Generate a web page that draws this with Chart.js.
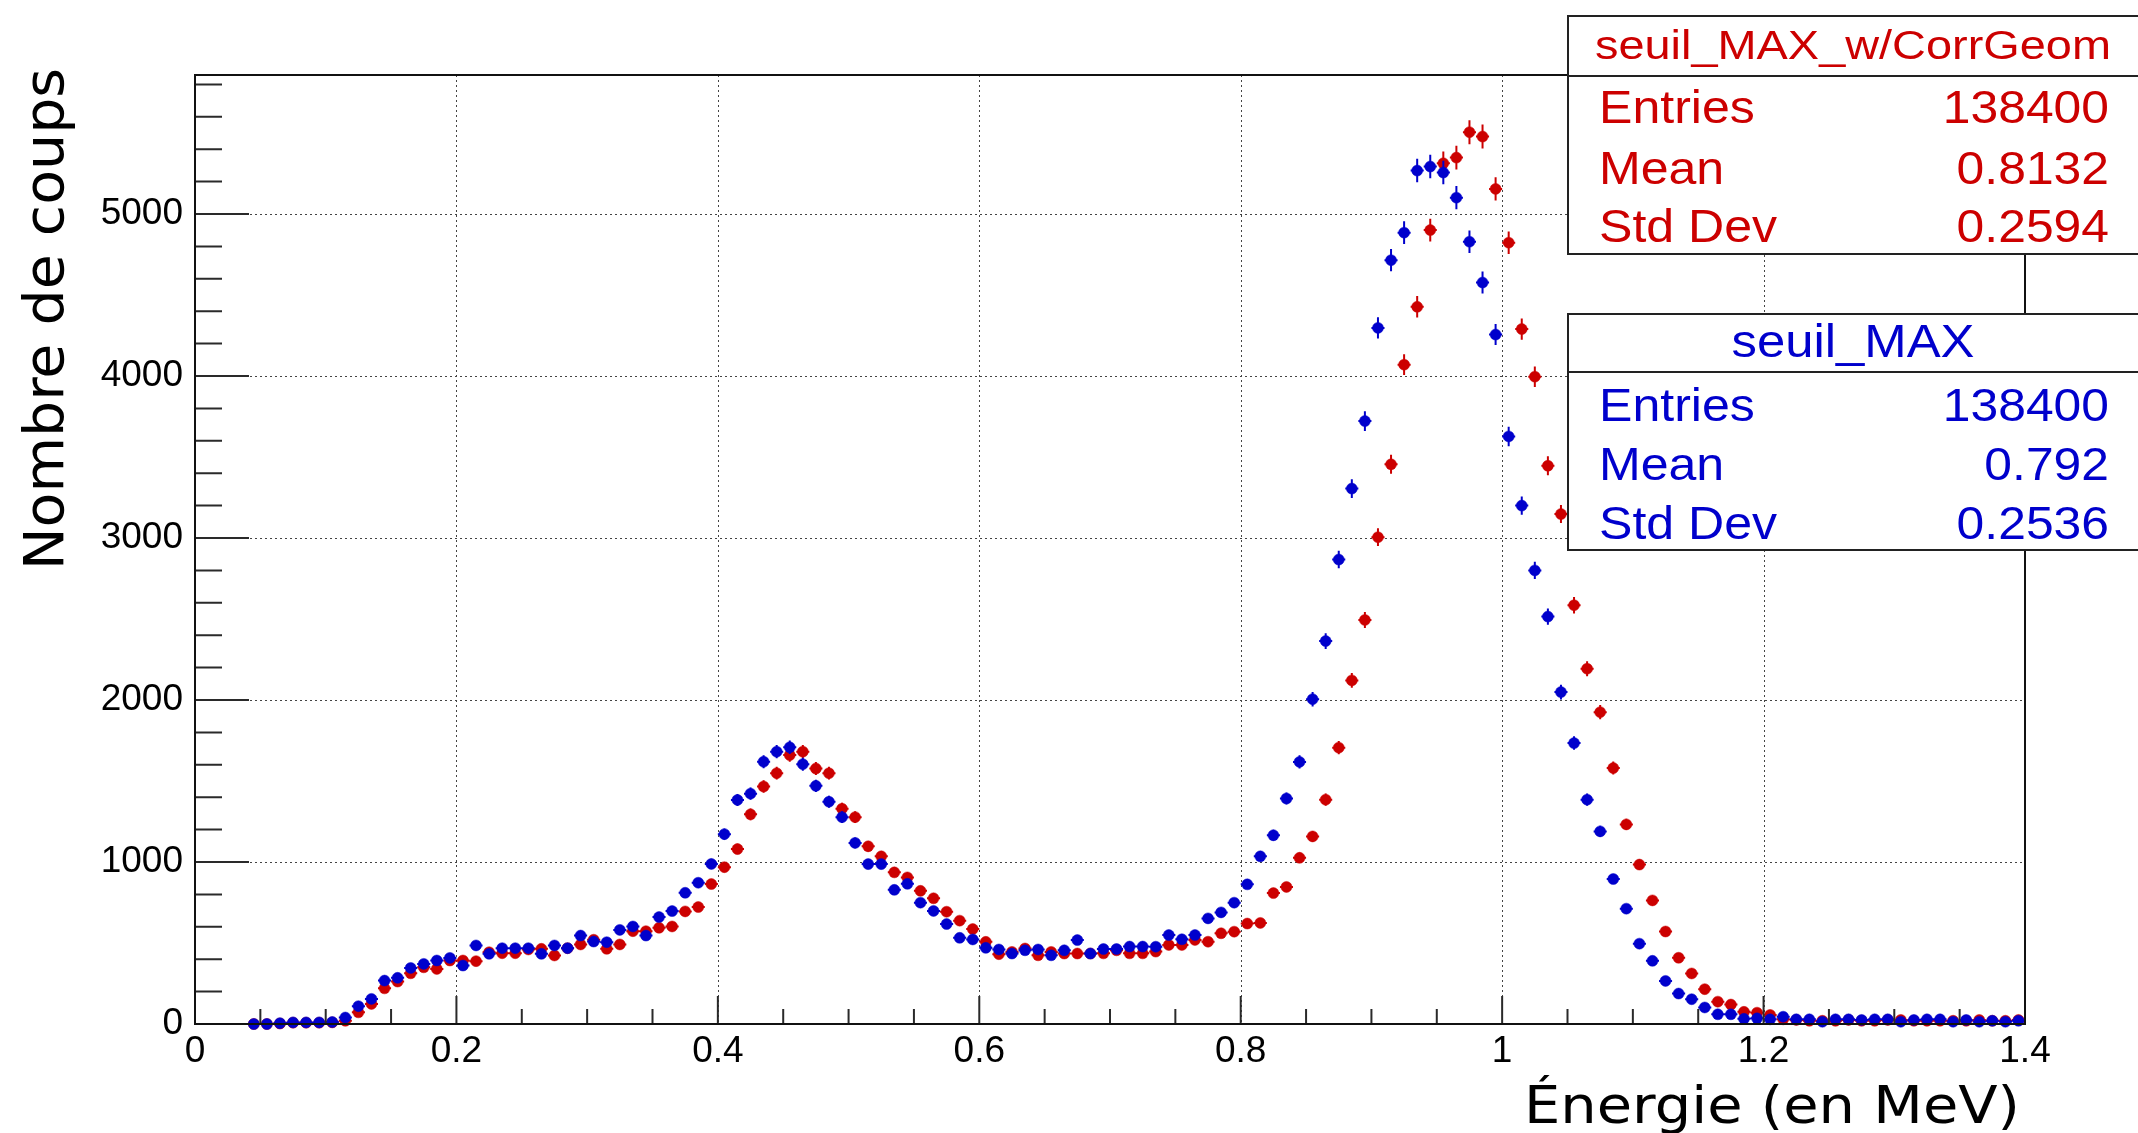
<!DOCTYPE html>
<html>
<head>
<meta charset="utf-8">
<script src="https://cdn.jsdelivr.net/npm/chart.js@4.4.1/dist/chart.umd.min.js"></script>
<style>
html,body{margin:0;padding:0;background:#fff;overflow:hidden}
#wrap{width:2138px;height:1133px;position:relative}
</style>
</head>
<body>
<div id="wrap"><canvas id="c" width="2138" height="1133"></canvas></div>
<script>
// ---- data (bin centres, MeV) ----
const energyBins = [
0.045,0.055,0.065,0.075,0.085,0.095,0.105,0.115,0.125,0.135,
0.145,0.155,0.165,0.175,0.185,0.195,0.205,0.215,0.225,0.235,
0.245,0.255,0.265,0.275,0.285,0.295,0.305,0.315,0.325,0.335,
0.345,0.355,0.365,0.375,0.385,0.395,0.405,0.415,0.425,0.435,
0.445,0.455,0.465,0.475,0.485,0.495,0.505,0.515,0.525,0.535,
0.545,0.555,0.565,0.575,0.585,0.595,0.605,0.615,0.625,0.635,
0.645,0.655,0.665,0.675,0.685,0.695,0.705,0.715,0.725,0.735,
0.745,0.755,0.765,0.775,0.785,0.795,0.805,0.815,0.825,0.835,
0.845,0.855,0.865,0.875,0.885,0.895,0.905,0.915,0.925,0.935,
0.945,0.955,0.965,0.975,0.985,0.995,1.005,1.015,1.025,1.035,
1.045,1.055,1.065,1.075,1.085,1.095,1.105,1.115,1.125,1.135,
1.145,1.155,1.165,1.175,1.185,1.195,1.205,1.215,1.225,1.235,
1.245,1.255,1.265,1.275,1.285,1.295,1.305,1.315,1.325,1.335,
1.345,1.355,1.365,1.375,1.385,1.395];

// seuil_MAX (blue)
const countsMAX = [
0,0,5,10,10,10,12,40,110,155,
268,285,346,371,392,408,361,485,433,468,
468,468,433,485,468,546,509,505,581,602,
546,660,697,810,872,988,1172,1383,1422,1619,
1681,1708,1604,1470,1372,1277,1118,987,987,828,
865,749,698,617,532,522,470,460,435,455,
460,424,455,518,435,463,463,478,478,477,
549,523,549,652,689,749,862,1035,1165,1392,
1618,2005,2364,2867,3305,3722,4297,4715,4885,5268,
5293,5256,5101,4829,4577,4256,3627,3200,2800,2515,
2049,1734,1385,1189,895,712,496,390,266,188,
153,102,60,60,32,35,29,45,29,29,
14,29,29,25,29,29,14,25,29,29,
14,25,14,20,14,20];

// seuil_MAX_w/CorrGeom (red)
const countsCorrGeom = [
0,0,3,8,8,8,10,20,72,124,
220,262,313,350,340,392,392,388,443,437,
437,460,464,423,468,491,520,464,491,573,
573,594,602,695,722,864,968,1080,1294,1466,
1548,1660,1681,1577,1548,1329,1277,1097,1035,936,
905,822,776,693,638,586,507,431,445,466,
424,445,435,435,435,436,455,436,436,447,
488,488,519,508,560,570,620,624,808,846,
1026,1158,1385,1706,2121,2494,3005,3455,4070,4427,
4901,5313,5348,5505,5478,5155,4823,4290,3996,3446,
3148,2585,2193,1925,1580,1232,984,763,571,409,
312,215,138,120,75,70,56,29,25,20,
20,20,25,20,20,25,25,20,20,20,
20,20,25,20,20,25];

const binHalfWidth = 0.005;
const xTickValues = [0,0.2,0.4,0.6,0.8,1,1.2,1.4];
const xTickLabels = ['0','0.2','0.4','0.6','0.8','1','1.2','1.4'];
const xMinorStep = 0.05;
const yTickValues = [0,1000,2000,3000,4000,5000];
const yTickLabels = ['0','1000','2000','3000','4000','5000'];
const yMinorStep = 200;
const yMax = 5858;

const statLabels = ['Entries','Mean','Std Dev'];
const statsCorrGeom = ['138400','0.8132','0.2594'];
const statsMAX = ['138400','0.792','0.2536'];
const nameCorrGeom = 'seuil_MAX_w/CorrGeom';
const nameMAX = 'seuil_MAX';
const xTitle = 'Énergie (en MeV)';
const yTitle = 'Nombre de coups';

const RED = '#cc0000';
const BLUE = '#0000cc';
const SANS = '"Liberation Sans", Arial, Helvetica, sans-serif';
const DEJA = '"DejaVu Sans", sans-serif';

function toPoints(vals){ return energyBins.map((x,i)=>({x:x, y:vals[i]})); }

function drawText(ctx, text, x, y, font, align, sx, color){
  ctx.save();
  ctx.font = font; ctx.fillStyle = color; ctx.textBaseline = 'alphabetic'; ctx.textAlign = align;
  ctx.translate(x, y); ctx.scale(sx, 1);
  ctx.fillText(text, 0, 0);
  ctx.restore();
}
function fitText(ctx, text, x, y, font, width, color, rot){
  ctx.save();
  ctx.font = font; ctx.fillStyle = color; ctx.textBaseline = 'alphabetic'; ctx.textAlign = 'center';
  const w = ctx.measureText(text).width;
  ctx.translate(x, y); if (rot) ctx.rotate(rot);
  ctx.scale(width / w, 1);
  ctx.fillText(text, 0, 0);
  ctx.restore();
}

const errorBars = {
  id: 'errorBars',
  beforeDatasetDraw(chart, args){
    const ds = chart.data.datasets[args.index];
    const xs = chart.scales.x, ys = chart.scales.y, ctx = chart.ctx;
    ctx.save();
    ctx.strokeStyle = ds.borderColor; ctx.lineWidth = 2;
    ctx.beginPath();
    ds.data.forEach(p => {
      const e = Math.sqrt(p.y);
      const px = xs.getPixelForValue(p.x), py = ys.getPixelForValue(p.y);
      ctx.moveTo(px, ys.getPixelForValue(p.y - e));
      ctx.lineTo(px, ys.getPixelForValue(p.y + e));
      ctx.moveTo(xs.getPixelForValue(p.x - binHalfWidth), py);
      ctx.lineTo(xs.getPixelForValue(p.x + binHalfWidth), py);
    });
    ctx.stroke();
    ctx.restore();
  }
};

const frame = {
  id: 'rootFrame',
  beforeDatasetsDraw(chart){
    const {ctx, chartArea:a} = chart; const xs = chart.scales.x, ys = chart.scales.y;
    ctx.save();
    ctx.strokeStyle = '#444'; ctx.lineWidth = 1; ctx.setLineDash([2,3]);
    ctx.beginPath();
    xTickValues.forEach(v => { if (v > 0 && v < 1.4) { const x = Math.round(xs.getPixelForValue(v)) + 0.5; ctx.moveTo(x, a.top); ctx.lineTo(x, a.bottom); } });
    yTickValues.forEach(v => { if (v > 0) { const y = Math.round(ys.getPixelForValue(v)) + 0.5; ctx.moveTo(a.left, y); ctx.lineTo(a.right, y); } });
    ctx.stroke();
    ctx.restore();
  },
  afterDatasetsDraw(chart){
    const {ctx, chartArea:a} = chart; const xs = chart.scales.x, ys = chart.scales.y;
    ctx.save();
    ctx.strokeStyle = '#2a2a2a'; ctx.lineWidth = 2;
    ctx.beginPath();
    for (let k = 0; k <= 28; k++) {
      const v = k * xMinorStep; const x = xs.getPixelForValue(v);
      const len = (k % 4 === 0) ? 28 : 15;
      ctx.moveTo(x, a.bottom); ctx.lineTo(x, a.bottom - len);
    }
    for (let k = 0; k * yMinorStep <= yMax; k++) {
      const v = k * yMinorStep; const y = ys.getPixelForValue(v);
      const len = (k % 5 === 0) ? 54 : 27;
      ctx.moveTo(a.left, y); ctx.lineTo(a.left + len, y);
    }
    ctx.stroke();
    ctx.strokeStyle = '#111'; ctx.lineWidth = 2;
    ctx.strokeRect(a.left, a.top, a.right - a.left, a.bottom - a.top);
    ctx.restore();
  },
  afterDraw(chart){
    const ctx = chart.ctx;
    // axis titles
    fitText(ctx, xTitle, 1772, 1123, '51px ' + DEJA, 496, '#000', 0);
    fitText(ctx, yTitle, 63, 319, '56px ' + DEJA, 502, '#000', -Math.PI/2);
    // stats boxes
    const boxes = [
      {top:16, sep:76, bottom:254, name:nameCorrGeom, nameSize:40, nameW:516, nameBase:59, vals:statsCorrGeom, base:[123,184,242], color:RED},
      {top:314, sep:372, bottom:550, name:nameMAX, nameSize:47, nameW:243, nameBase:357, vals:statsMAX, base:[421,480,539], color:BLUE}
    ];
    boxes.forEach(b => {
      ctx.save();
      ctx.fillStyle = '#fff';
      ctx.fillRect(1568, b.top, 600, b.bottom - b.top);
      ctx.strokeStyle = '#222'; ctx.lineWidth = 2;
      ctx.strokeRect(1568, b.top, 600, b.bottom - b.top);
      ctx.beginPath(); ctx.moveTo(1568, b.sep); ctx.lineTo(2140, b.sep); ctx.stroke();
      ctx.restore();
      fitText(ctx, b.name, 1853, b.nameBase, b.nameSize + 'px ' + SANS, b.nameW, b.color, 0);
      statLabels.forEach((lab, i) => {
        drawText(ctx, lab, 1599, b.base[i], '47px ' + SANS, 'left', 1.065, b.color);
        drawText(ctx, b.vals[i], 2109, b.base[i], '47px ' + SANS, 'right', 1.06, b.color);
      });
    });
  }
};

new Chart(document.getElementById('c'), {
  type: 'scatter',
  data: {
    datasets: [
      {label: nameMAX, data: toPoints(countsMAX), backgroundColor: BLUE, borderColor: BLUE,
       pointRadius: 5.5, pointBorderWidth: 0.5, pointHoverRadius: 5.5, clip: false},
      {label: nameCorrGeom, data: toPoints(countsCorrGeom), backgroundColor: RED, borderColor: RED,
       pointRadius: 5.5, pointBorderWidth: 0.5, pointHoverRadius: 5.5, clip: false}
    ]
  },
  options: {
    responsive: false, animation: false, devicePixelRatio: 1,
    layout: {padding: {left: 0, top: 75, right: 113, bottom: 0}},
    plugins: {legend: {display: false}, tooltip: {enabled: false}, title: {display: false}},
    events: [],
    scales: {
      x: {
        type: 'linear', min: 0, max: 1.4,
        afterFit(s){ s.height = 109; },
        afterBuildTicks(s){ s.ticks = xTickValues.map(v => ({value: v})); },
        grid: {display: false, drawTicks: false},
        border: {display: false},
        ticks: {autoSkip: false, maxRotation: 0, minRotation: 0, padding: 6, color: '#000',
                font: {family: SANS, size: 37}, callback: (v, i) => xTickLabels[i]}
      },
      y: {
        type: 'linear', min: 0, max: yMax,
        afterFit(s){ s.width = 195; },
        afterBuildTicks(s){ s.ticks = yTickValues.map(v => ({value: v})); },
        grid: {display: false, drawTicks: false},
        border: {display: false},
        ticks: {autoSkip: false, padding: 12, color: '#000',
                font: {family: SANS, size: 37}, callback: (v, i) => yTickLabels[i]}
      }
    }
  },
  plugins: [errorBars, frame]
});
</script>
</body>
</html>
